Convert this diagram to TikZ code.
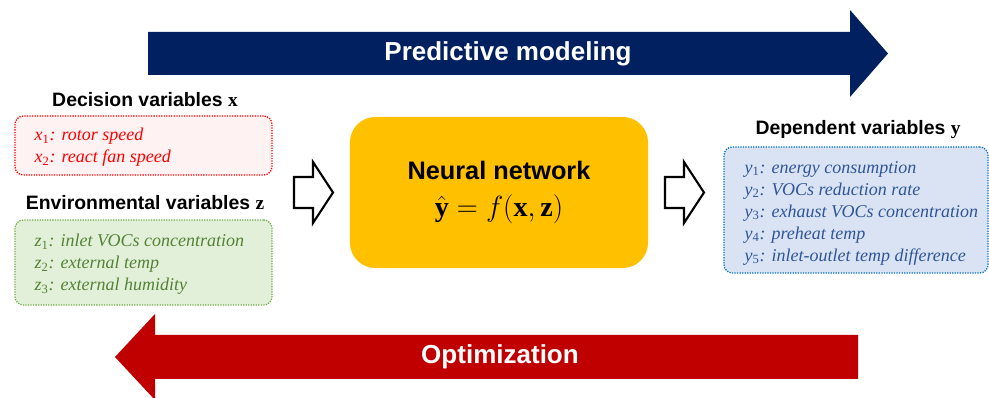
\documentclass[tikz,border=0pt]{standalone}
\usepackage{fontspec}
\setmainfont{Liberation Serif}
\setsansfont{Liberation Sans}
\usepackage{amsmath}
\usepackage{tikz}
\usetikzlibrary{positioning}
\usepackage{xcolor}
\definecolor{navyband}{HTML}{002060}
\definecolor{redband}{HTML}{C00000}
\definecolor{nnyellow}{HTML}{FFC000}
\definecolor{decred}{HTML}{FF0000}
\definecolor{decfill}{HTML}{FFF2F2}
\definecolor{envgreen}{HTML}{548235}
\definecolor{envline}{HTML}{70AD47}
\definecolor{envfill}{HTML}{E2F0D9}
\definecolor{depblue}{HTML}{2F5597}
\definecolor{depline}{HTML}{0070C0}
\definecolor{depfill}{HTML}{DAE3F3}
% italic variable with an upright index
\newcommand{\varsub}[2]{\textit{#1}\textsubscript{\upshape #2}}
\tikzset{%
	var box/.style={
		rounded corners=6pt,
		line width=0.9pt,
		dash pattern=on 0.9pt off 0.9pt
	},
	var list/.style={
		align=left,
		anchor=west,
		inner sep=0pt,
		font=\rmfamily\itshape\fontsize{12.8}{15.6}\selectfont
	},
	var title/.style={
		font=\sffamily\bfseries\fontsize{13.8}{16}\selectfont
	},
	band text/.style={
		text=white,
		font=\sffamily\bfseries\fontsize{18.5}{20}\selectfont
	},
	hollow arrow/.style={
		draw=black,
		line width=1.5pt,
		fill=white,
		line join=miter
	},
}
\begin{document}
\begin{tikzpicture}[x=0.025cm,y=-0.025cm]
	\useasboundingbox (0,0) rectangle (989,398);
	\clip (0,0) rectangle (989,398);
	
	% forward and backward bands
	\fill[navyband] (148,32) -- (850,32) -- (850,10) -- (888,53.5) -- (850,97) -- (850,75) -- (148,75) -- cycle;
	\node[band text] (predict) at (508,53.5) {Predictive modeling};
	\fill[redband] (858,335) -- (155,335) -- (155,314) -- (115,357) -- (155,400) -- (155,379) -- (858,379) -- cycle;
	\node[band text] (optim) at (500,357) {Optimization};
	
	% inputs
	\node[var title] (dectitle) at (145,100) {Decision variables $\mathbf{x}$};
	\node[var box, draw=decred, fill=decfill, minimum width=6.425cm, minimum height=1.475cm] (dec) at (143.5,145.5) {};
	\node[var list, text=decred] (declist) at ([xshift=0.5cm,yshift=-0.05cm]dec.west)
		{\varsub{x}{1}: rotor speed\\ \varsub{x}{2}: react fan speed};
	\node[var title] (envtitle) at (145,203) {Environmental variables $\mathbf{z}$};
	\node[var box, draw=envline, fill=envfill, minimum width=6.425cm, minimum height=2.125cm] (env) at (143.5,262.5) {};
	\node[var list, text=envgreen] (envlist) at ([xshift=0.5cm,yshift=-0.05cm]env.west)
		{\varsub{z}{1}: inlet VOCs concentration\\ \varsub{z}{2}: external temp\\ \varsub{z}{3}: external humidity};
	
	% model
	\node[fill=nnyellow, rounded corners=18pt, minimum width=7.45cm, minimum height=3.775cm, align=center] (nn) at (499,192.5)
		{\sffamily\bfseries\fontsize{18}{22}\selectfont Neural network\\[10pt]
		 \fontsize{20}{22}\selectfont $\hat{\mathbf{y}} = f(\mathbf{x},\mathbf{z})$};
	
	% outputs
	\node[var title] (deptitle) at (858,130) {Dependent variables $\mathbf{y}$};
	\node[var box, draw=depline, fill=depfill, minimum width=6.6cm, minimum height=3.15cm] (dep) at (856,210) {};
	\node[var list, text=depblue] (deplist) at ([xshift=0.525cm,yshift=-0.08cm]dep.west)
		{\varsub{y}{1}: energy consumption\\ \varsub{y}{2}: VOCs reduction rate\\ \varsub{y}{3}: exhaust VOCs concentration\\ \varsub{y}{4}: preheat temp\\ \varsub{y}{5}: inlet-outlet temp difference};
	
	% block arrows in and out of the network
	\draw[hollow arrow] (294,177) -- (313,177) -- (313,162) -- (333,192.5) -- (313,223) -- (313,208) -- (294,208) -- cycle;
	\draw[hollow arrow] (665,177) -- (684,177) -- (684,162) -- (704,192.5) -- (684,223) -- (684,208) -- (665,208) -- cycle;
\end{tikzpicture}
\end{document}
